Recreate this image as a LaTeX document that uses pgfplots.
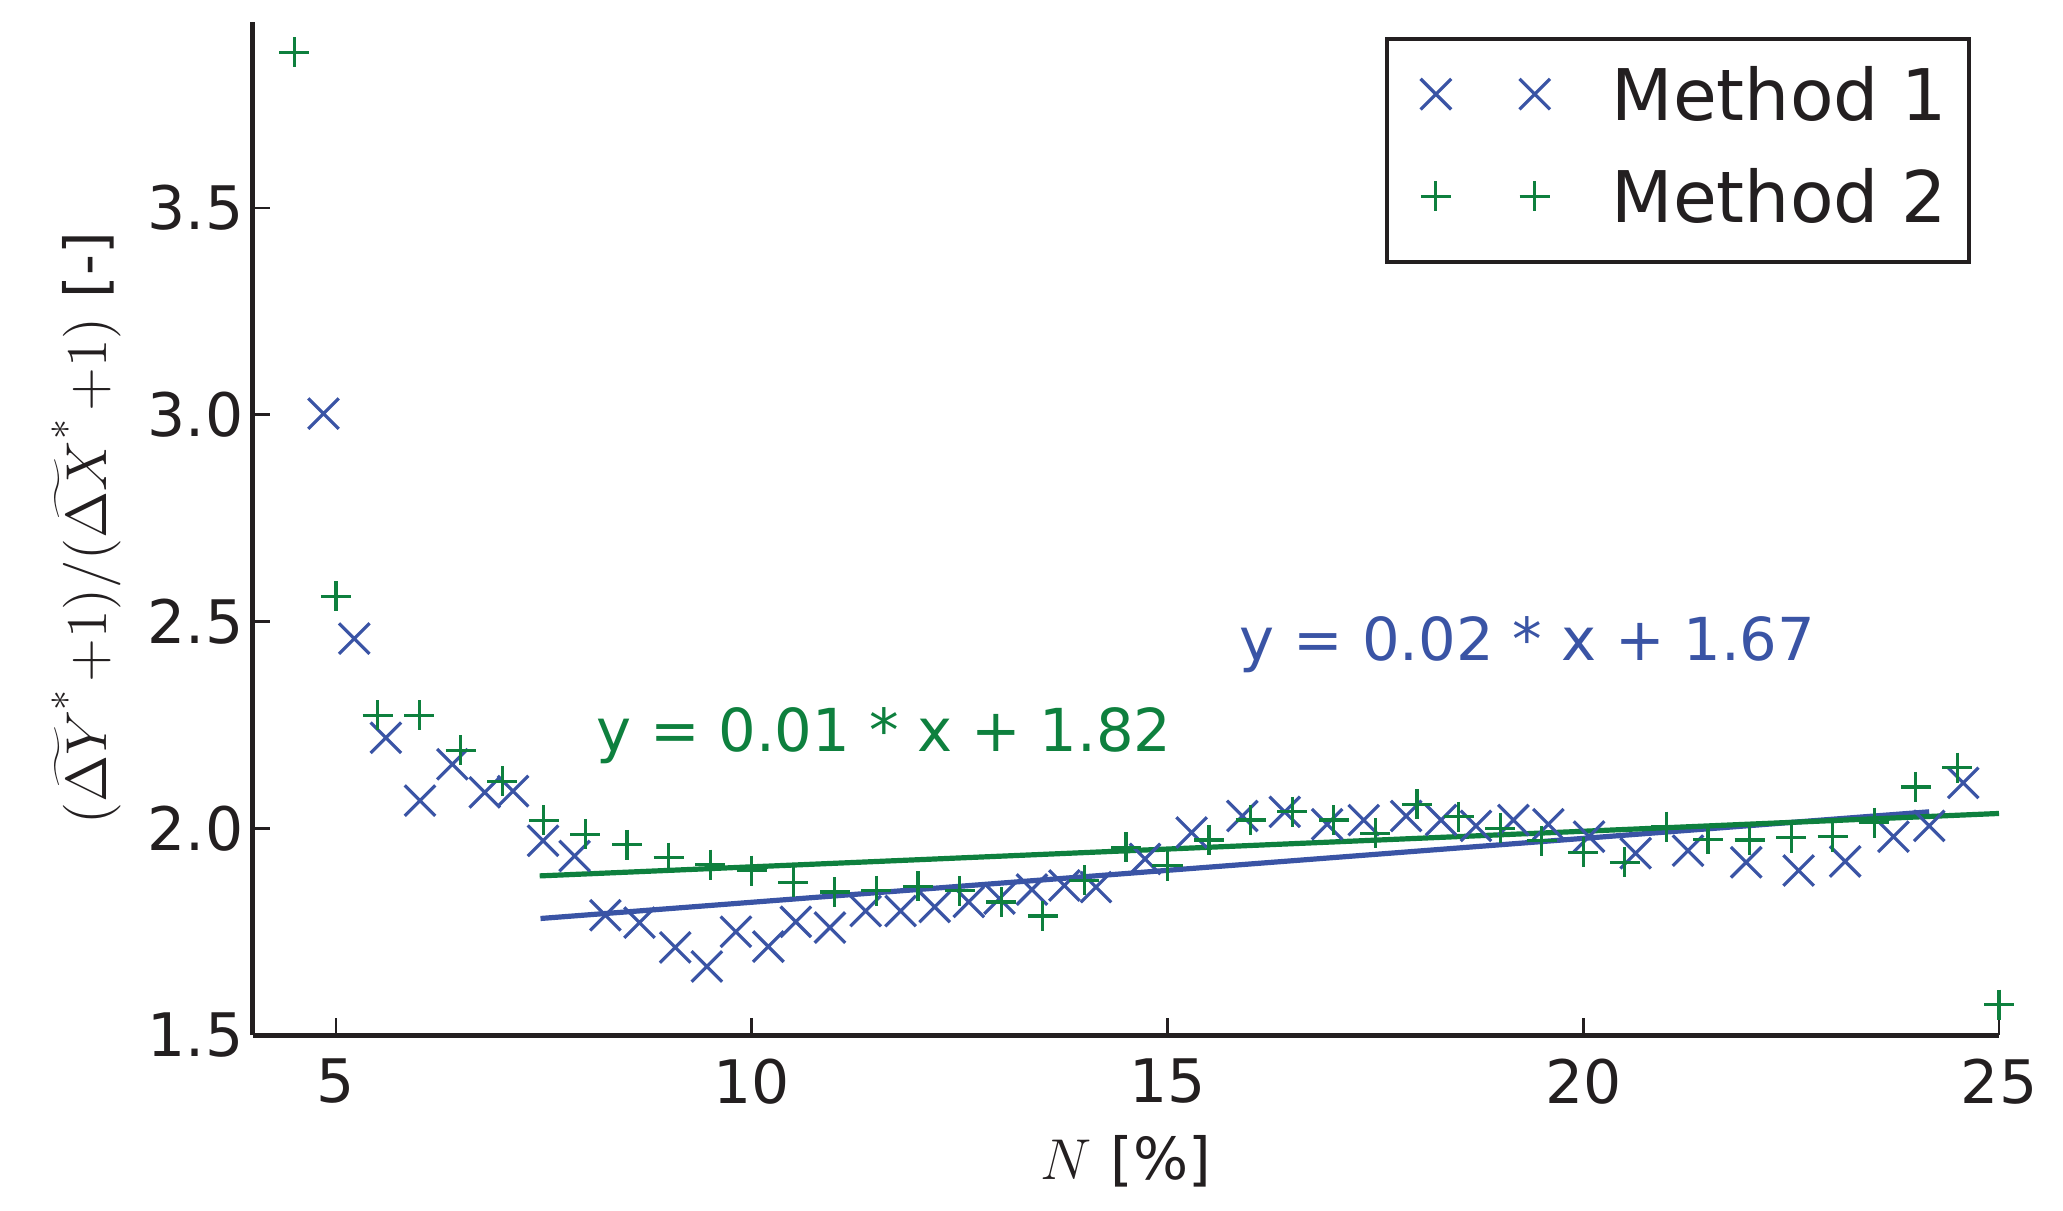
\documentclass[border=0pt]{standalone}
\usepackage{fontspec}
\usepackage{pgfplots}
\usepackage{pgfplotstable}
\pgfplotsset{compat=1.18}
\newfontfamily\dejavu{DejaVu Sans}
\definecolor{mblue}{RGB}{58,84,165}
\definecolor{mgreen}{RGB}{14,128,62}
\definecolor{tblack}{RGB}{35,31,32}

\pgfplotstableread{
x y
4.85 3.003
5.22 2.459
5.60 2.219
6.01 2.067
6.40 2.155
6.79 2.087
7.13 2.090
7.49 1.970
7.87 1.933
8.24 1.790
8.65 1.772
9.08 1.712
9.46 1.666
9.81 1.750
10.20 1.714
10.53 1.774
10.94 1.760
11.37 1.800
11.79 1.800
12.20 1.810
12.61 1.822
12.98 1.830
13.37 1.852
13.76 1.862
14.14 1.858
14.73 1.926
15.29 1.990
15.90 2.030
16.41 2.040
16.92 2.010
17.36 2.020
17.87 2.030
18.29 2.020
18.71 2.006
19.16 2.020
19.58 2.010
20.07 1.980
20.63 1.940
21.26 1.946
21.96 1.918
22.59 1.898
23.15 1.920
23.73 1.980
24.16 2.006
24.57 2.110
}\methodone

\pgfplotstableread{
x y
4.5 3.877
5.0 2.561
5.5 2.273
6.0 2.273
6.5 2.189
7.0 2.114
7.5 2.019
8.0 1.986
8.5 1.960
9.0 1.929
9.5 1.912
10.0 1.898
10.5 1.870
11.0 1.846
11.5 1.849
12.0 1.860
12.5 1.849
13.0 1.822
13.5 1.788
14.0 1.874
14.5 1.954
15.0 1.910
15.5 1.972
16.0 2.020
16.5 2.040
17.0 2.020
17.5 1.988
18.0 2.058
18.5 2.028
19.0 2.000
19.5 1.970
20.0 1.942
20.5 1.918
21.0 2.004
21.5 1.974
22.0 1.972
22.5 1.977
23.0 1.980
23.5 2.014
24.0 2.100
24.5 2.147
25.0 1.574
}\methodtwo

\begin{document}
\begin{tikzpicture}
\begin{axis}[
  scale only axis,
  width=436.5pt, height=253.25pt,
  xmin=4, xmax=25, ymin=1.5, ymax=3.95,
  clip=false,
  axis lines=left,
  axis line style={-, line width=1.25pt, color=tblack},
  xtick={5,10,15,20,25},
  ytick={1.5,2.0,2.5,3.0,3.5},
  minor tick num=0,
  tick align=inside,
  major tick length=4.3pt,
  tick style={line width=0.67pt, color=tblack},
  /pgf/number format/assume math mode=true,
  scaled y ticks=false,
  ticklabel style={font=\dejavu\fontsize{15}{18}\selectfont, text=tblack, inner sep=0pt},
  xticklabel style={anchor=north, yshift=-5.75pt},
  yticklabel style={anchor=east, xshift=-2.2pt,
    /pgf/number format/fixed, /pgf/number format/fixed zerofill,
    /pgf/number format/precision=1},
  xlabel={$N$ {\dejavu [\%]}},
  ylabel={$(\widetilde{\Delta Y}^{*}\mkern2mu{+}1)/(\widetilde{\Delta X}^{*}\mkern2mu{+}1)$ {\dejavu [-]}},
  label style={font=\fontsize{14.5}{17}\selectfont, text=tblack, inner sep=0pt},
  xlabel style={at={(axis description cs:0.5,-0.0987)}, anchor=north},
  ylabel style={at={(axis description cs:-0.0749,0.5)}, anchor=south},
  legend cell align=left,
  legend image code/.code={%
    \path[draw=none,fill=none] (-6.8pt,-6pt) rectangle (30.7pt,6pt);
    \draw[#1] plot[only marks] coordinates {(0pt,1.375pt) (24.7pt,1.375pt)};
  },
  legend style={at={(axis description cs:0.9838,0.985)}, anchor=north east,
    draw=tblack, line width=1pt, fill=white,
    inner xsep=5.5pt, inner ysep=7.25pt, row sep=9.79pt, column sep=13.25pt,
    font=\dejavu\fontsize{17.8}{21}\selectfont, text=tblack,
    nodes={inner sep=0pt, text height=12.98pt, text depth=2.75pt}},
]
\addplot[only marks, mark=x, mark size=5.4pt, color=mblue,
  mark options={line width=0.8pt}] table[x=x,y=y]{\methodone};
\addlegendentry{Method 1}
\addplot[only marks, mark=+, mark size=3.75pt, color=mgreen,
  mark options={line width=0.8pt}] table[x=x,y=y]{\methodtwo};
\addlegendentry{Method 2}
\addplot[mblue, line width=1.3pt, no marks, forget plot] coordinates {(7.46,1.782) (24.16,2.040)};
\addplot[mgreen, line width=1.3pt, no marks, forget plot] coordinates {(7.45,1.885) (25.0,2.036)};
\node[anchor=base west, inner sep=0pt, text=mblue, font=\dejavu\fontsize{14.8}{18}\selectfont]
  at (axis cs:15.86,2.407) {y = 0.02 * x + 1.67};
\node[anchor=base west, inner sep=0pt, text=mgreen, font=\dejavu\fontsize{14.8}{18}\selectfont]
  at (axis cs:8.12,2.187) {y = 0.01 * x + 1.82};
\end{axis}
\pgfresetboundingbox
\path[use as bounding box] ([xshift=-63.2pt,yshift=-43.75pt]current axis.south west) rectangle ([xshift=16pt,yshift=5.5pt]current axis.north east);
\end{tikzpicture}
\end{document}
